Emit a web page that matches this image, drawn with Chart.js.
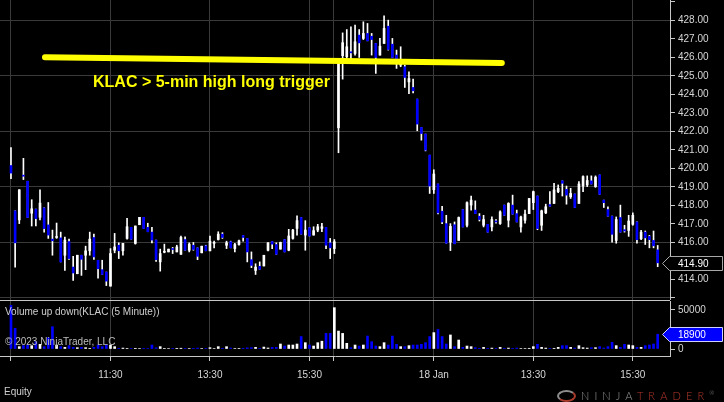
<!DOCTYPE html>
<html>
<head>
<meta charset="utf-8">
<title>KLAC 5 Minute</title>
<script src="https://cdn.jsdelivr.net/npm/chart.js@4.4.1/dist/chart.umd.min.js"></script>
<style>
  html, body { margin: 0; padding: 0; background: #000; }
  #wrap { position: relative; width: 724px; height: 402px; overflow: hidden; background: #000;
          font-family: "Liberation Sans", Arial, sans-serif; }
  canvas { position: absolute; left: 0; }
  #priceChart { top: 0; }
  #volumeChart { top: 300px; }
  .txt { position: absolute; white-space: nowrap; font-size: 10px; line-height: 10px; color: #cfcfcf; z-index: 2; }
  #trigger { left: 93px; top: 74px; font-size: 16px; line-height: 16px; font-weight: bold; color: #ffff00; }
  #volTitle { left: 5px; top: 307px; }
  #copy { left: 5px; top: 337px; color: #bdbdbd; }
  #equity { left: 4px; top: 387px; }
  #logo { left: 557px; top: 387px; font-family: Lato, "DejaVu Sans", sans-serif; font-weight: 300;
          font-size: 11px; line-height: 12px; letter-spacing: 5.1px; color: #9a9a9a; }
  #logo .mark { display: inline-block; width: 19px; height: 12px; border: 2px solid #8c8c8c; border-radius: 50%;
                vertical-align: -2px; margin-right: 5px; box-sizing: border-box;
                border-right-color: #a83a2c; border-bottom-color: #a83a2c; }
  #logo .red { color: #b8382b; }
  #logo sup { font-size: 6px; letter-spacing: 0; }
</style>
</head>
<body>
<div id="wrap">
  <canvas id="priceChart" width="724" height="300"></canvas>
  <canvas id="volumeChart" width="724" height="102"></canvas>
  <div class="txt" id="trigger">KLAC &gt; 5-min high long trigger</div>
  <div class="txt" id="volTitle">Volume up down(KLAC (5 Minute))</div>
  <div class="txt" id="copy">© 2023 NinjaTrader, LLC</div>
  <div class="txt" id="equity">Equity</div>
  <div class="txt" id="logo"><span class="mark"></span>NINJA<span class="red">TRADER</span><sup>®</sup></div>
</div>
<script>
// 5-minute bars, 17 Jan (79 bars) then 18 Jan (78 bars)
const opens = [
  420.16, 417.71, 417.22, 419.64, 419.31, 417.58, 417.80, 417.36, 417.87, 416.95,
  416.18, 416.27, 416.25, 415.31, 416.05, 414.67, 414.31, 415.31, 415.31, 415.55,
  416.27, 415.04, 414.53, 414.40, 413.64, 415.58, 415.85, 415.55, 416.22, 416.82,
  415.95, 416.96, 417.36, 416.82, 416.56, 416.13, 414.95, 415.47, 415.49, 415.67,
  415.49, 415.36, 416.16, 415.58, 415.85, 415.71, 415.44, 415.82, 415.55, 415.95,
  416.16, 416.45, 415.85, 416.04, 415.67, 415.89, 416.38, 416.22, 415.07, 414.49,
  414.71, 414.73, 415.58, 416.05, 415.89, 415.64, 416.16, 415.58, 416.22, 416.76,
  417.35, 416.40, 416.80, 416.40, 416.67, 416.76, 416.82, 415.98, 415.67,
  422.20, 426.10, 426.04, 426.31, 426.22, 427.21, 427.03, 427.30, 427.15, 426.76,
  426.13, 426.76, 427.69, 426.72, 426.13, 425.59, 425.50, 424.68, 424.38, 423.75,
  422.22, 421.86, 420.72, 418.85, 419.16, 417.69, 417.02, 416.02, 416.96, 416.11,
  417.78, 416.93, 418.02, 417.75, 417.42, 416.93, 416.98, 416.84, 417.16, 417.02,
  418.02, 417.20, 418.02, 417.56, 416.84, 417.20, 417.56, 418.15, 418.51, 416.93,
  417.60, 418.05, 418.11, 418.75, 419.33, 418.87, 418.47, 418.62, 418.11, 419.05,
  419.11, 419.33, 419.02, 419.65, 418.29, 417.78, 417.42, 416.11, 417.35, 416.69,
  416.65, 416.98, 417.11, 416.20, 416.56, 416.33, 416.11, 415.60
];
const highs = [
  421.13, 417.71, 418.85, 420.55, 419.31, 418.31, 417.80, 418.85, 417.87, 418.16,
  416.67, 417.05, 416.56, 416.29, 416.18, 415.25, 415.31, 415.31, 415.80, 416.56,
  416.45, 415.04, 415.04, 414.40, 415.67, 416.49, 415.98, 415.95, 417.31, 416.82,
  416.89, 417.36, 417.36, 417.04, 416.82, 416.13, 415.64, 415.91, 415.64, 415.73,
  415.85, 416.35, 416.31, 415.98, 416.00, 415.71, 415.80, 415.85, 416.35, 416.07,
  416.58, 416.53, 416.07, 416.07, 415.95, 416.13, 416.38, 416.22, 415.49, 414.85,
  414.95, 415.31, 416.00, 416.05, 415.98, 416.02, 416.16, 416.71, 416.71, 417.44,
  417.35, 417.18, 416.80, 416.85, 416.98, 417.04, 416.82, 416.22, 416.16,
  425.95, 427.33, 427.51, 427.66, 427.75, 427.51, 427.93, 427.84, 427.30, 426.76,
  427.03, 428.25, 428.02, 427.03, 426.40, 426.58, 425.59, 425.23, 424.83, 423.75,
  422.22, 421.86, 420.72, 419.93, 419.16, 417.96, 417.47, 417.02, 417.11, 417.38,
  417.78, 418.20, 418.51, 418.25, 417.56, 417.47, 416.98, 417.38, 417.24, 417.71,
  418.02, 418.15, 418.56, 417.75, 417.42, 417.75, 418.38, 418.78, 418.51, 417.75,
  418.07, 418.75, 419.20, 419.11, 419.33, 419.05, 418.93, 418.62, 419.29, 419.60,
  419.60, 419.60, 419.60, 419.65, 418.29, 417.93, 417.42, 417.38, 418.02, 416.93,
  417.47, 417.60, 417.11, 416.65, 416.62, 416.38, 416.62, 415.84
];
const lows = [
  419.45, 414.67, 417.02, 419.40, 417.35, 416.89, 416.89, 417.22, 416.56, 416.22,
  415.31, 416.22, 414.95, 414.49, 415.09, 413.95, 414.31, 414.22, 414.53, 415.31,
  415.09, 414.07, 414.27, 413.67, 413.64, 415.44, 415.13, 415.31, 416.18, 416.18,
  415.91, 416.96, 416.75, 416.58, 415.98, 414.98, 414.45, 415.44, 415.49, 415.40,
  415.49, 415.36, 415.58, 415.49, 415.58, 415.07, 415.44, 415.55, 415.55, 415.71,
  416.13, 416.22, 415.67, 415.71, 415.49, 415.85, 416.07, 414.95, 414.64, 414.27,
  414.55, 414.73, 415.55, 415.67, 415.36, 415.64, 415.49, 415.55, 416.18, 416.40,
  416.45, 415.58, 416.35, 416.40, 416.58, 416.58, 415.67, 415.13, 415.40,
  420.85, 424.83, 425.80, 425.90, 426.13, 426.00, 426.97, 426.90, 426.13, 425.14,
  426.13, 426.76, 426.40, 426.00, 425.41, 425.50, 424.38, 424.05, 424.09, 422.04,
  421.53, 420.95, 418.65, 418.65, 417.55, 417.02, 415.96, 415.56, 415.93, 416.11,
  416.84, 416.84, 417.75, 417.56, 417.16, 416.84, 416.56, 416.62, 417.05, 416.98,
  417.47, 416.84, 417.53, 417.11, 416.56, 417.05, 417.56, 417.78, 416.69, 416.65,
  417.56, 417.96, 418.11, 418.69, 418.51, 418.07, 418.38, 417.89, 418.11, 418.75,
  419.02, 419.16, 418.98, 418.60, 417.89, 417.42, 416.02, 415.96, 416.56, 416.56,
  416.33, 416.93, 415.96, 416.15, 415.89, 415.71, 415.71, 414.69
];
const closes = [
  419.75, 415.98, 418.85, 419.58, 417.35, 417.82, 417.29, 418.13, 416.75, 416.40,
  416.09, 416.31, 414.95, 416.13, 415.13, 414.35, 415.31, 415.09, 415.55, 416.18,
  415.22, 414.58, 414.27, 413.91, 415.40, 415.76, 415.55, 415.95, 416.85, 416.18,
  416.89, 417.36, 416.75, 416.58, 416.13, 415.07, 415.40, 415.51, 415.64, 415.62,
  415.76, 416.27, 415.58, 415.91, 415.62, 415.25, 415.80, 415.55, 416.07, 416.00,
  416.45, 416.27, 415.98, 415.71, 415.89, 416.09, 416.27, 415.49, 414.76, 414.67,
  414.55, 415.31, 415.98, 415.91, 415.36, 416.00, 415.49, 416.35, 416.67, 417.18,
  416.45, 416.67, 416.35, 416.64, 416.85, 416.85, 415.85, 415.71, 416.04,
  425.80, 426.80, 426.58, 426.25, 426.85, 426.79, 427.30, 426.90, 426.97, 426.00,
  426.61, 427.57, 426.43, 426.00, 425.77, 425.77, 424.92, 424.86, 424.20, 422.40,
  421.89, 420.99, 419.05, 419.70, 417.60, 417.11, 415.96, 416.87, 415.93, 417.35,
  416.84, 418.15, 418.29, 417.56, 417.24, 417.24, 416.56, 417.24, 417.11, 417.65,
  417.47, 418.11, 417.53, 417.11, 417.38, 417.53, 418.38, 418.75, 416.75, 417.71,
  417.93, 417.96, 418.84, 418.93, 419.20, 418.56, 418.65, 417.89, 419.16, 419.56,
  419.35, 419.16, 419.53, 418.60, 418.15, 417.42, 416.44, 417.24, 416.56, 416.62,
  417.16, 417.47, 416.15, 416.56, 416.25, 416.15, 415.82, 414.90
];
const volumes = [
  56000, 26500, 3000, 4300, 5100, 4300, 9400, 6000, 3000, 14500,
  28600, 5100, 3000, 2100, 4300, 2100, 1700, 2100, 1700, 900,
  2100, 5100, 3000, 5100, 5100, 3000, 900, 1200, 800, 700,
  900, 600, 800, 700, 5100, 1500, 3000, 800, 600, 700,
  900, 1000, 800, 700, 900, 1200, 600, 800, 1700, 600,
  3000, 900, 3000, 1200, 700, 800, 900, 1500, 1700, 2100,
  900, 2500, 1300, 2100, 2100, 6400, 3800, 5100, 5100, 6400,
  16000, 8100, 5100, 3800, 8100, 10000, 20000, 20000, 53000,
  23000, 20000, 7300, 1700, 5100, 3800, 5100, 16600, 9400, 3800,
  3000, 8100, 5100, 16600, 6000, 3000, 3000, 4300, 5100, 5100,
  6000, 8100, 16000, 21000, 25000, 16000, 6400, 18000, 3000, 11500,
  2100, 3800, 3000, 1700, 900, 2100, 900, 1200, 800, 2100,
  900, 1200, 800, 1200, 700, 600, 900, 3000, 6000, 2100,
  1200, 800, 900, 2100, 4300, 4300, 2100, 1200, 4300, 1700,
  1200, 1700, 1700, 3000, 1200, 3000, 8500, 4300, 2100, 6000,
  5100, 4300, 2100, 2100, 4300, 5100, 6400, 18900
];

// time axis: bar-index positions of the session gridlines and their labels
const xTickPos = [0, 24, 48, 72, 77.75, 102, 126, 150];
const xTickLabels = ["", "11:30", "13:30", "15:30", "", "18 Jan", "13:30", "15:30"];
const priceTicks = [413, 414, 415, 416, 417, 418, 419, 420, 421, 422, 423, 424, 425, 426, 427, 428, 429];
const volumeTicks = [0, 50000];
// drawn trend line "KLAC > 5-min high long trigger" (bar index, price)
const triggerLine = [{ x: 8.2, y: 426.01 }, { x: 118.4, y: 425.70 }];

const UP = "#ffffff";
const DOWN = "#0000ff";
const GRID = "#3a3a3a";
const AXIS = "#c8c8c8";
const LABEL = "#d6d6d6";
const FONT = { family: '"Liberation Sans", Arial, sans-serif', size: 10 };
const X_MIN = -2.65;
const X_MAX = 158.97;

const barIndex = opens.map((o, i) => i);
const barColor = i => (closes[i] >= opens[i] ? UP : DOWN);

function timeAxis(showLabels) {
  return {
    type: "linear",
    min: X_MIN,
    max: X_MAX,
    offset: false,
    afterBuildTicks: scale => {
      scale.ticks = xTickPos.map(v => ({ value: v }));
    },
    afterFit: scale => {
      scale.height = showLabels ? 46 : 0;
      scale.paddingLeft = 0;
      scale.paddingRight = 0;
    },
    grid: { color: GRID, offset: false, drawTicks: showLabels, tickLength: 5, tickColor: AXIS },
    border: { display: showLabels, color: AXIS },
    ticks: {
      display: showLabels,
      autoSkip: false,
      maxRotation: 0,
      padding: 8,
      color: LABEL,
      font: FONT,
      callback: (value, index) => xTickLabels[index],
    },
  };
}

function valueAxis(min, max, tickValues, extra) {
  return Object.assign({
    type: "linear",
    position: "right",
    min: min,
    max: max,
    afterBuildTicks: scale => {
      scale.ticks = tickValues.map(v => ({ value: v }));
    },
    afterFit: scale => {
      scale.width = 54;
      scale.paddingTop = 0;
      scale.paddingBottom = 0;
    },
    border: { color: AXIS },
  }, extra);
}

// last value box with a left pointing arrow, on the right axis
const lastMarker = {
  id: "lastMarker",
  afterDraw(chart, args, opts) {
    const { ctx, chartArea } = chart;
    const y = Math.round(chart.scales.y.getPixelForValue(opts.value)) + 0.5;
    const left = chartArea.right - 0.5;
    const right = chart.width - 1.5;
    const tip = chartArea.right - 7.5;
    ctx.save();
    ctx.beginPath();
    ctx.moveTo(tip, y);
    ctx.lineTo(left, y - 7);
    ctx.lineTo(right, y - 7);
    ctx.lineTo(right, y + 7);
    ctx.lineTo(left, y + 7);
    ctx.closePath();
    ctx.fillStyle = opts.fill;
    ctx.fill();
    ctx.lineWidth = 1;
    ctx.strokeStyle = opts.stroke;
    ctx.stroke();
    ctx.fillStyle = "#ffffff";
    ctx.font = '10px "Liberation Sans", Arial, sans-serif';
    ctx.textBaseline = "middle";
    ctx.fillText(opts.text, chartArea.right + 8, y + 0.5);
    ctx.restore();
  },
};

// thin line separating the price and volume panels
const panelSeparator = {
  id: "panelSeparator",
  afterDraw(chart) {
    const { ctx, chartArea } = chart;
    ctx.save();
    ctx.strokeStyle = AXIS;
    ctx.lineWidth = 1;
    ctx.beginPath();
    ctx.moveTo(0, 0.5);
    ctx.lineTo(chartArea.right, 0.5);
    ctx.stroke();
    ctx.restore();
  },
};

const common = {
  responsive: false,
  animation: false,
  events: [],
  devicePixelRatio: 1,
  plugins: { legend: { display: false }, tooltip: { enabled: false } },
};

new Chart(document.getElementById("priceChart").getContext("2d"), {
  type: "bar",
  plugins: [lastMarker],
  data: {
    datasets: [
      {
        type: "line",
        data: triggerLine,
        borderColor: "#ffff00",
        borderWidth: 6,
        borderCapStyle: "round",
        pointRadius: 0,
        order: 0,
      },
      {
        data: barIndex.map(i => ({ x: i, y: [opens[i], closes[i]] })),
        backgroundColor: ctx => barColor(ctx.dataIndex),
        barThickness: 2,
        minBarLength: 1,
        grouped: false,
        order: 1,
      },
      {
        data: barIndex.map(i => ({ x: i, y: [lows[i], highs[i]] })),
        backgroundColor: UP,
        barThickness: 1,
        minBarLength: 1,
        grouped: false,
        order: 2,
      },
    ],
  },
  options: Object.assign({}, common, {
    layout: { padding: 0 },
    plugins: Object.assign({}, common.plugins, {
      lastMarker: { value: closes[closes.length - 1], text: closes[closes.length - 1].toFixed(2), fill: "#000000", stroke: "#a8a8a8" },
    }),
    scales: {
      x: timeAxis(false),
      y: valueAxis(412.89, 429.108, priceTicks, {
        grid: {
          color: c => (c.tick && c.tick.value % 3 === 2 ? GRID : "rgba(0,0,0,0)"),
          tickColor: AXIS,
          tickLength: 5,
        },
        ticks: {
          padding: 3,
          color: LABEL,
          font: FONT,
          callback: v => (v >= 414 && v <= 428 ? v.toFixed(2) : ""),
        },
      }),
    },
  }),
});

new Chart(document.getElementById("volumeChart").getContext("2d"), {
  type: "bar",
  plugins: [lastMarker, panelSeparator],
  data: {
    datasets: [
      {
        data: barIndex.map(i => ({ x: i, y: volumes[i] })),
        backgroundColor: ctx => barColor(ctx.dataIndex),
        barThickness: 2,
        grouped: false,
      },
    ],
  },
  options: Object.assign({}, common, {
    layout: { padding: { top: 1 } },
    plugins: Object.assign({}, common.plugins, {
      lastMarker: { value: volumes[volumes.length - 1], text: String(volumes[volumes.length - 1]), fill: DOWN, stroke: "#d0d0ff" },
    }),
    scales: {
      x: timeAxis(true),
      y: valueAxis(-8974, 61538, volumeTicks, {
        grid: { drawOnChartArea: false, tickColor: AXIS, tickLength: 5 },
        ticks: { padding: 3, color: LABEL, font: FONT, callback: v => String(v) },
      }),
    },
  }),
});
</script>
</body>
</html>
